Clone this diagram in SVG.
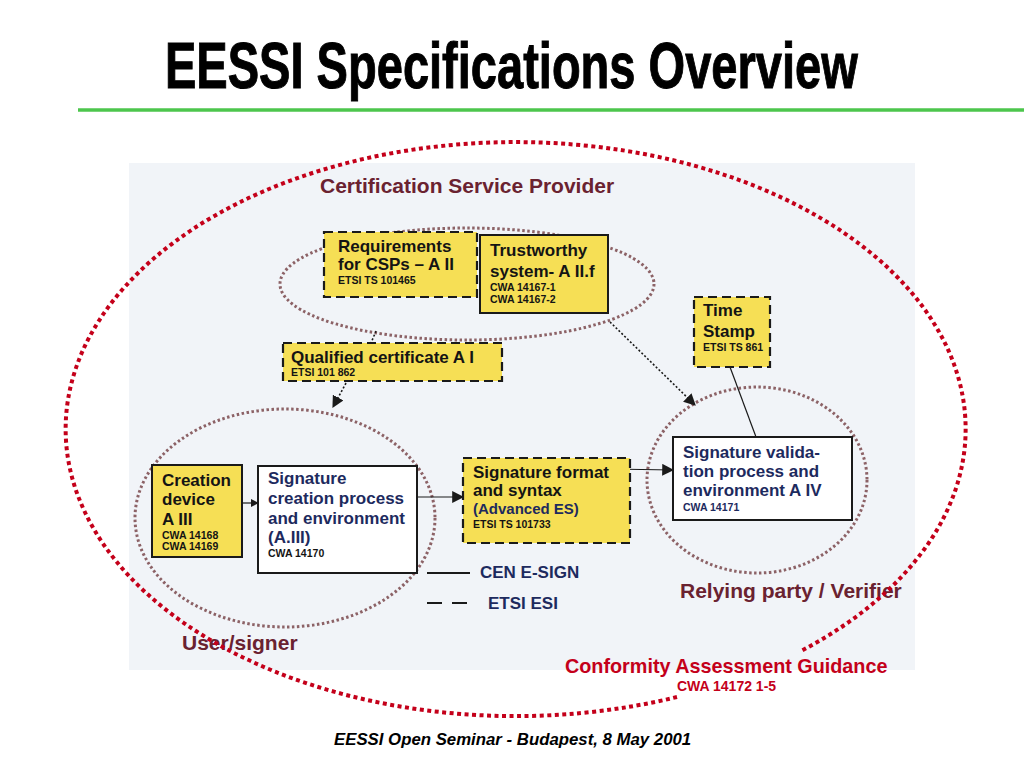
<svg xmlns="http://www.w3.org/2000/svg" width="1024" height="768" viewBox="0 0 1024 768">
<defs>
<style>
.t{font-family:"Liberation Sans",Arial,sans-serif;font-weight:bold}
.big{font-size:17px}
.sm{font-size:10.5px}
.blk{fill:#141414}
.nav{fill:#1d2a5e}
.mar{fill:#6a2230;font-size:21px}
.yb{fill:#f6df55;stroke:#1a1a1a;stroke-width:2}
.ybd{fill:#f6df55;stroke:#1a1a1a;stroke-width:2.2;stroke-dasharray:9 5}
.wb{fill:#ffffff;stroke:#1a1a1a;stroke-width:2}
.grp{fill:none;stroke:#8c6266;stroke-width:3;stroke-dasharray:2.5 2.5}
.conn{fill:none;stroke:#1a1a1a;stroke-width:1.2}
.dot{fill:none;stroke:#1a1a1a;stroke-width:1.6;stroke-dasharray:2 2}
</style>
<marker id="ah" viewBox="0 0 10 10" refX="9" refY="5" markerWidth="8" markerHeight="8" markerUnits="userSpaceOnUse" orient="auto">
<path d="M0,0 L10,5 L0,10 z" fill="#1a1a1a"/>
</marker>
<marker id="ahb" viewBox="0 0 10 10" refX="9" refY="5" markerWidth="12" markerHeight="12" markerUnits="userSpaceOnUse" orient="auto">
<path d="M0,0 L10,5 L0,10 z" fill="#1a1a1a"/>
</marker>
</defs>
<rect width="1024" height="768" fill="#ffffff"/>
<text transform="translate(165,88) scale(0.735,1)" x="0" y="0" class="t" font-size="64" fill="#000" stroke="#000" stroke-width="1">EESSI Specifications Overview</text>
<line x1="78" y1="110" x2="1024" y2="110" stroke="#4cc64c" stroke-width="3.5"/>
<rect x="129" y="163" width="786" height="507" fill="#f1f4f8"/>

<g id="groups">
<ellipse cx="467" cy="284" rx="187" ry="56" class="grp"/>
<ellipse cx="285" cy="518" rx="150" ry="109" class="grp"/>
<ellipse cx="757" cy="480" rx="110" ry="93" class="grp"/>
</g>

<text x="320" y="193" class="t mar">Certification Service Provider</text>
<text x="182" y="650" class="t mar">User/signer</text>
<text x="680" y="598" class="t mar">Relying party / Verifier</text>

<g id="connectors">
<line x1="376" y1="331" x2="371" y2="343" class="dot"/>
<line x1="346" y1="383" x2="333" y2="407" class="dot" marker-end="url(#ahb)"/>
<line x1="610" y1="322" x2="695" y2="405" class="dot" marker-end="url(#ahb)"/>
<line x1="730" y1="367" x2="756" y2="437" class="conn"/>
<line x1="237" y1="503" x2="258" y2="503" class="conn" marker-end="url(#ah)"/>
<line x1="412" y1="497" x2="463" y2="497" class="conn" marker-end="url(#ahb)"/>
<line x1="610" y1="469" x2="673" y2="470" class="conn" marker-end="url(#ahb)"/>
</g>

<g id="req-csp">
<rect x="324" y="232" width="153" height="65" class="ybd"/>
<text x="338" y="252" class="t big blk">Requirements</text>
<text x="338" y="270" class="t big blk">for CSPs – A II</text>
<text x="338" y="284" class="t sm blk">ETSI TS 101465</text>
</g>
<g id="trustworthy">
<rect x="480" y="235" width="128" height="78" class="yb"/>
<text x="490" y="256" class="t big blk">Trustworthy</text>
<text x="490" y="277" class="t big blk">system- A II.f</text>
<text x="490" y="291" class="t sm blk">CWA 14167-1</text>
<text x="490" y="303" class="t sm blk">CWA 14167-2</text>
</g>
<g id="qualified-cert">
<rect x="283" y="343" width="219" height="38" class="ybd"/>
<text x="291" y="363" class="t big blk">Qualified certificate  A I</text>
<text x="291" y="376" class="t sm blk">ETSI 101 862</text>
</g>
<g id="time-stamp">
<rect x="694" y="297" width="76" height="70" class="ybd"/>
<text x="703" y="316" class="t big blk">Time</text>
<text x="703" y="337" class="t big blk">Stamp</text>
<text x="703" y="351" class="t sm blk">ETSI TS 861</text>
</g>
<g id="creation-device">
<rect x="152" y="465" width="90" height="92" class="yb"/>
<text x="162" y="486" class="t big blk">Creation</text>
<text x="162" y="505" class="t big blk">device</text>
<text x="162" y="525" class="t big blk">A III</text>
<text x="162" y="539" class="t sm blk">CWA 14168</text>
<text x="162" y="550" class="t sm blk">CWA 14169</text>
</g>
<g id="sig-creation">
<rect x="258" y="466" width="159" height="107" class="wb"/>
<text x="268" y="484" class="t big nav">Signature</text>
<text x="268" y="504" class="t big nav">creation process</text>
<text x="268" y="524" class="t big nav">and environment</text>
<text x="268" y="543" class="t big nav">(A.III)</text>
<text x="268" y="557" class="t sm blk">CWA 14170</text>
</g>
<g id="sig-format">
<rect x="463" y="458" width="167" height="85" class="ybd"/>
<text x="473" y="478" class="t big blk">Signature format</text>
<text x="473" y="496" class="t big blk">and syntax</text>
<text x="473" y="514" class="t nav" font-size="15">(Advanced ES)</text>
<text x="473" y="528" class="t sm blk">ETSI TS 101733</text>
</g>
<g id="sig-validation">
<rect x="673" y="437" width="179" height="83" class="wb"/>
<text x="683" y="458" class="t big nav">Signature valida-</text>
<text x="683" y="477" class="t big nav">tion process and</text>
<text x="683" y="496" class="t big nav">environment  A IV</text>
<text x="683" y="511" class="t sm nav">CWA 14171</text>
</g>

<g id="legend">
<line x1="427" y1="573" x2="470" y2="573" stroke="#1a1a1a" stroke-width="2"/>
<text x="480" y="578" class="t nav" font-size="17">CEN E-SIGN</text>
<line x1="427" y1="603" x2="472" y2="603" stroke="#1a1a1a" stroke-width="2" stroke-dasharray="15 10"/>
<text x="488" y="609" class="t nav" font-size="17">ETSI ESI</text>
</g>

<path id="scope" d="M 677,697 A 450 287 0 1 1 801,651" fill="none" stroke="#c4001a" stroke-width="4" stroke-dasharray="4 3.5"/>
<text x="565" y="673" class="t" font-size="19.8" fill="#c4001a">Conformity Assessment Guidance</text>
<text x="677" y="691" class="t" font-size="14" fill="#c4001a">CWA 14172 1-5</text>

<text x="334" y="745" font-family="'Liberation Sans',Arial,sans-serif" font-weight="bold" font-style="italic" font-size="16.8" fill="#000">EESSI Open Seminar - Budapest, 8 May 2001</text>
</svg>
